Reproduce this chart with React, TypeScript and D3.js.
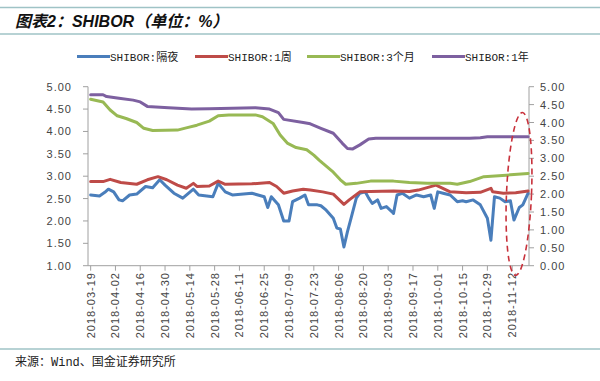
import React from "react";
import * as d3 from "d3";

const seriesNames = ["SHIBOR:隔夜", "SHIBOR:1周", "SHIBOR:3个月", "SHIBOR:1年"];
const seriesColors = ["#4a7ebb", "#be4b48", "#98b954", "#7d60a0"];

const xTickLabels = [
  "2018-03-19", "2018-04-02", "2018-04-16", "2018-04-30", "2018-05-14", "2018-05-28",
  "2018-06-11", "2018-06-25", "2018-07-09", "2018-07-23", "2018-08-06", "2018-08-20",
  "2018-09-03", "2018-09-17", "2018-10-01", "2018-10-15", "2018-10-29", "2018-11-12",
];
const leftTicks = [1, 1.5, 2, 2.5, 3, 3.5, 4, 4.5, 5];
const rightTicks = [0, 0.5, 1, 1.5, 2, 2.5, 3, 3.5, 4, 4.5, 5];

const overnight: [string, number][] = [
  ["2018-03-19", 2.58], ["2018-03-24", 2.56], ["2018-03-27", 2.64], ["2018-03-29", 2.71],
  ["2018-04-01", 2.65], ["2018-04-04", 2.47], ["2018-04-06", 2.45], ["2018-04-10", 2.58],
  ["2018-04-14", 2.6], ["2018-04-19", 2.77], ["2018-04-23", 2.74], ["2018-04-27", 2.92],
  ["2018-04-30", 2.8], ["2018-05-05", 2.62], ["2018-05-10", 2.51], ["2018-05-16", 2.71],
  ["2018-05-19", 2.58], ["2018-05-27", 2.54], ["2018-05-30", 2.84], ["2018-06-03", 2.65],
  ["2018-06-07", 2.58], ["2018-06-18", 2.62], ["2018-06-25", 2.54], ["2018-06-27", 2.3],
  ["2018-06-29", 2.54], ["2018-07-03", 2.36], ["2018-07-06", 2.0], ["2018-07-09", 2.0],
  ["2018-07-11", 2.43], ["2018-07-15", 2.51], ["2018-07-18", 2.58], ["2018-07-20", 2.36],
  ["2018-07-25", 2.36], ["2018-07-27", 2.34], ["2018-07-30", 2.24], ["2018-08-03", 2.06],
  ["2018-08-05", 1.84], ["2018-08-07", 1.82], ["2018-08-09", 1.42], ["2018-08-11", 1.76],
  ["2018-08-13", 2.06], ["2018-08-16", 2.51], ["2018-08-18", 2.62], ["2018-08-21", 2.65],
  ["2018-08-23", 2.51], ["2018-08-25", 2.39], ["2018-08-28", 2.47], ["2018-08-30", 2.28],
  ["2018-09-02", 2.32], ["2018-09-05", 2.21], ["2018-09-06", 2.17], ["2018-09-08", 2.58],
  ["2018-09-11", 2.62], ["2018-09-15", 2.51], ["2018-09-19", 2.58], ["2018-09-23", 2.54],
  ["2018-09-27", 2.58], ["2018-09-29", 2.28], ["2018-10-01", 2.65], ["2018-10-04", 2.62],
  ["2018-10-08", 2.58], ["2018-10-12", 2.43], ["2018-10-15", 2.45], ["2018-10-17", 2.43],
  ["2018-10-21", 2.47], ["2018-10-25", 2.36], ["2018-10-29", 2.06], ["2018-10-31", 1.57],
  ["2018-11-02", 2.54], ["2018-11-05", 2.51], ["2018-11-08", 2.43], ["2018-11-11", 2.45],
  ["2018-11-13", 2.02], ["2018-11-16", 2.3], ["2018-11-18", 2.36], ["2018-11-21", 2.62],
];

const oneWeek: [string, number][] = [
  ["2018-03-19", 2.88], ["2018-03-26", 2.88], ["2018-03-30", 2.93], ["2018-04-05", 2.86],
  ["2018-04-14", 2.82], ["2018-04-20", 2.92], ["2018-04-26", 2.99], ["2018-05-01", 2.92],
  ["2018-05-07", 2.8], ["2018-05-12", 2.73], ["2018-05-16", 2.84], ["2018-05-18", 2.77],
  ["2018-05-25", 2.78], ["2018-05-30", 2.89], ["2018-06-03", 2.82], ["2018-06-18", 2.83],
  ["2018-06-28", 2.86], ["2018-07-02", 2.77], ["2018-07-06", 2.62], ["2018-07-11", 2.67],
  ["2018-07-17", 2.71], ["2018-07-21", 2.69], ["2018-07-28", 2.65], ["2018-08-03", 2.6],
  ["2018-08-09", 2.37], ["2018-08-12", 2.47], ["2018-08-18", 2.65], ["2018-08-24", 2.66],
  ["2018-09-06", 2.67], ["2018-09-15", 2.66], ["2018-09-20", 2.69], ["2018-09-30", 2.8],
  ["2018-10-08", 2.65], ["2018-10-17", 2.63], ["2018-10-25", 2.64], ["2018-10-31", 2.73],
  ["2018-11-01", 2.65], ["2018-11-07", 2.62], ["2018-11-14", 2.63], ["2018-11-21", 2.67],
];

const threeMonth: [string, number][] = [
  ["2018-03-19", 4.72], ["2018-03-26", 4.66], ["2018-03-30", 4.48], ["2018-04-03", 4.35],
  ["2018-04-08", 4.29], ["2018-04-14", 4.2], ["2018-04-18", 4.07], ["2018-04-23", 4.02],
  ["2018-05-07", 4.03], ["2018-05-12", 4.08], ["2018-05-18", 4.14], ["2018-05-25", 4.23],
  ["2018-05-30", 4.35], ["2018-06-05", 4.37], ["2018-06-20", 4.37], ["2018-06-24", 4.33],
  ["2018-06-30", 4.18], ["2018-07-04", 3.92], ["2018-07-08", 3.74], ["2018-07-13", 3.64],
  ["2018-07-19", 3.59], ["2018-07-23", 3.47], ["2018-07-26", 3.36], ["2018-07-28", 3.29],
  ["2018-08-03", 3.09], ["2018-08-07", 2.92], ["2018-08-10", 2.82], ["2018-08-16", 2.84],
  ["2018-08-24", 2.89], ["2018-09-06", 2.89], ["2018-09-15", 2.86], ["2018-09-25", 2.84],
  ["2018-10-08", 2.84], ["2018-10-12", 2.82], ["2018-10-19", 2.88], ["2018-10-27", 2.99],
  ["2018-11-11", 3.03], ["2018-11-21", 3.06],
];

const oneYear: [string, number][] = [
  ["2018-03-19", 4.82], ["2018-03-26", 4.82], ["2018-03-28", 4.78], ["2018-04-04", 4.74],
  ["2018-04-12", 4.7], ["2018-04-16", 4.66], ["2018-04-20", 4.56], ["2018-05-02", 4.53],
  ["2018-05-15", 4.5], ["2018-05-25", 4.51], ["2018-06-20", 4.53], ["2018-06-28", 4.5],
  ["2018-07-03", 4.42], ["2018-07-06", 4.27], ["2018-07-17", 4.2], ["2018-07-21", 4.17],
  ["2018-07-27", 4.07], ["2018-08-03", 3.96], ["2018-08-08", 3.74], ["2018-08-11", 3.62],
  ["2018-08-14", 3.61], ["2018-08-18", 3.7], ["2018-08-23", 3.83], ["2018-08-27", 3.85],
  ["2018-10-19", 3.85], ["2018-10-25", 3.86], ["2018-10-29", 3.88], ["2018-11-21", 3.88],
];

const allSeries = [overnight, oneWeek, threeMonth, oneYear];

const parse = d3.timeParse("%Y-%m-%d");

export default function App() {
  const W = 600;
  const H = 381;
  const left = 88;
  const right = 529;
  const top = 86.7;
  const bottom = 265.7;

  const x = d3
    .scaleTime()
    .domain([new Date(2018, 2, 17, 12), new Date(2018, 10, 21, 12)])
    .range([left, right]);
  const yL = d3.scaleLinear().domain([1, 5]).range([bottom, top]);
  const yR = d3.scaleLinear().domain([0, 5]).range([bottom, top]);

  const line = d3
    .line<[string, number]>()
    .x((d) => x(parse(d[0]) as Date))
    .y((d) => yL(d[1]))
    .curve(d3.curveLinear);

  const axisColor = "#a0a0a0";
  const textColor = "#444";
  const numFont = "'Liberation Sans', Arial, sans-serif";
  const monoFont = "'Liberation Mono', 'Noto Sans CJK SC', monospace";

  const legendX = [77, 195, 307, 432];

  return (
    <svg
      width={W}
      height={H}
      style={{ position: "absolute", left: 0, top: 0, background: "#fff" }}
    >
      <rect x={0} y={0} width={W} height={H} fill="#fff" />
      {/* title */}
      <line x1={0} x2={W} y1={7.5} y2={7.5} stroke="#9fc3c6" strokeWidth={1.5} />
      <line x1={0} x2={W} y1={34} y2={34} stroke="#9fc3c6" strokeWidth={1.5} />
      <text
        x={15}
        y={27}
        fontSize={16}
        fontWeight="bold"
        fontStyle="italic"
        fill="#111"
        fontFamily={"'Liberation Sans', Arial, 'Noto Sans CJK SC', sans-serif"}
      >
        图表2：SHIBOR（单位：%）
      </text>

      {/* legend */}
      {seriesNames.map((name, i) => (
        <g key={name}>
          <line
            x1={legendX[i]}
            x2={legendX[i] + 33}
            y1={56.5}
            y2={56.5}
            stroke={seriesColors[i]}
            strokeWidth={3}
          />
          <text
            x={legendX[i] + 33}
            y={60.5}
            fontSize={11}
            fill="#222"
            fontFamily={monoFont}
          >
            {name}
          </text>
        </g>
      ))}

      {/* left axis */}
      <line x1={left} x2={left} y1={top} y2={bottom} stroke={axisColor} />
      {leftTicks.map((t) => (
        <g key={"l" + t}>
          <line x1={left - 5} x2={left} y1={yL(t)} y2={yL(t)} stroke={axisColor} />
          <text
            x={72}
            y={yL(t) + 4}
            textAnchor="end"
            fontSize={11}
            letterSpacing={1}
            fill={textColor}
            fontFamily={numFont}
          >
            {t.toFixed(2)}
          </text>
        </g>
      ))}

      {/* right axis */}
      <line x1={right} x2={right} y1={top} y2={bottom} stroke={axisColor} />
      {rightTicks.map((t) => (
        <g key={"r" + t}>
          <line x1={right} x2={right + 5} y1={yR(t)} y2={yR(t)} stroke={axisColor} />
          <text
            x={540}
            y={yR(t) + 4}
            textAnchor="start"
            fontSize={11}
            letterSpacing={1}
            fill={textColor}
            fontFamily={numFont}
          >
            {t.toFixed(2)}
          </text>
        </g>
      ))}

      {/* x axis */}
      <line x1={left} x2={right} y1={bottom} y2={bottom} stroke={axisColor} />
      {xTickLabels.map((lab) => {
        const px = x(parse(lab) as Date);
        return (
          <g key={lab}>
            <line x1={px} x2={px} y1={bottom} y2={bottom + 5} stroke={axisColor} />
            <text
              transform={`translate(${px + 4},${272}) rotate(-90)`}
              textAnchor="end"
              fontSize={11}
              letterSpacing={1}
              fill={textColor}
              fontFamily={numFont}
            >
              {lab}
            </text>
          </g>
        );
      })}

      {/* series */}
      {allSeries.map((s, i) => (
        <path
          key={i}
          d={line(s) || ""}
          fill="none"
          stroke={seriesColors[i]}
          strokeWidth={3}
          strokeLinejoin="round"
          strokeLinecap="round"
        />
      ))}

      {/* highlight ellipse */}
      <ellipse
        cx={519}
        cy={194}
        rx={12.5}
        ry={81.5}
        transform="rotate(2.4 519 194)"
        fill="none"
        stroke="#c8313b"
        strokeWidth={1.6}
        strokeDasharray="6 4"
      />

      {/* source */}
      <line x1={0} x2={W} y1={349} y2={349} stroke="#9fc3c6" strokeWidth={1.5} />
      <text x={15} y={366} fontSize={12} fill="#222" fontFamily={monoFont}>
        来源：Wind、国金证券研究所
      </text>
    </svg>
  );
}
